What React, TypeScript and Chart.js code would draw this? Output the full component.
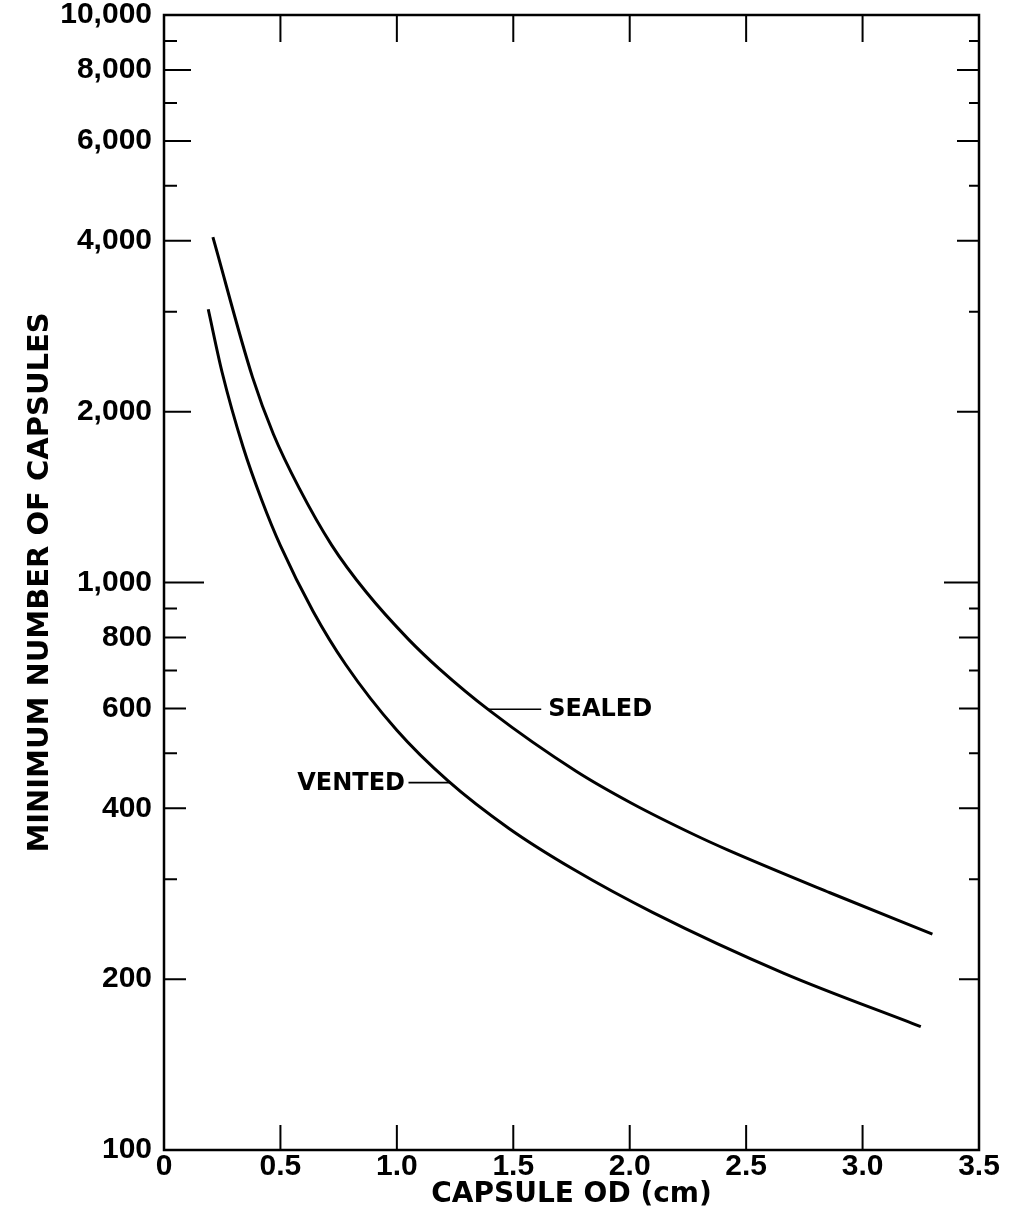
import React, { useEffect, useRef } from 'react';
import { Chart, registerables } from 'chart.js';

Chart.register(...registerables);

// ---- data ----
const sealedX = [0.21, 0.38, 0.47, 0.58, 0.72, 0.87, 1.05, 1.18, 1.40, 1.77, 2.01, 2.28, 2.42, 2.86, 3.30];
const sealedY = [4060, 2301, 1825, 1468, 1164, 960, 794, 706, 594, 465, 408, 359, 338, 284, 240];

const ventedX = [0.19, 0.25, 0.34, 0.42, 0.50, 0.64, 0.78, 1.00, 1.22, 1.48, 1.76, 2.10, 2.66, 3.25];
const ventedY = [3030, 2342, 1731, 1396, 1161, 890, 717, 549, 447, 369, 312, 262, 205, 165];

const seriesNames = ['SEALED', 'VENTED'];

const xTickValues = [0, 0.5, 1, 1.5, 2, 2.5, 3, 3.5];
const xTickLabels = ['0', '0.5', '1.0', '1.5', '2.0', '2.5', '3.0', '3.5'];

const yTickValues = [100, 200, 300, 400, 500, 600, 700, 800, 900, 1000, 2000, 3000, 4000, 5000, 6000, 7000, 8000, 9000, 10000];
const yLabeledValues = [100, 200, 400, 600, 800, 1000, 2000, 4000, 6000, 8000, 10000];
const yLabeledTexts = ['100', '200', '400', '600', '800', '1,000', '2,000', '4,000', '6,000', '8,000', '10,000'];

const xTitle = 'CAPSULE OD (cm)';
const yTitle = 'MINIMUM NUMBER OF CAPSULES';

// label anchors (data coordinates): point on curve, end of leader, text anchor
const sealedLabelAt = { curveX: 1.39, y: 598, leaderEndX: 1.62, textX: 1.65 };
const ventedLabelAt = { curveX: 1.23, y: 444, leaderEndX: 1.05, textX: 1.035 };

const tickFont = { family: '"Liberation Sans", Arial, sans-serif', size: 30, weight: 'bold' as const, lineHeight: 1 };
const titleFontFamily = '"DejaVu Sans", sans-serif';

const framePlugin = {
  id: 'framePlugin',
  afterDatasetsDraw(chart: any) {
    const { ctx, chartArea: a, scales } = chart;
    const xs = scales.x;
    const ys = scales.y;
    ctx.save();
    ctx.strokeStyle = '#000';
    ctx.lineCap = 'butt';
    ctx.lineWidth = 2.5;
    ctx.strokeRect(a.left, a.top, a.right - a.left, a.bottom - a.top);

    ctx.lineWidth = 2;
    yTickValues.forEach((v) => {
      if (v === 100 || v === 10000) return;
      const py = ys.getPixelForValue(v);
      const labeled = yLabeledValues.includes(v);
      const lenL = v === 1000 ? 40 : labeled ? (v >= 2000 ? 27 : 22) : 13;
      const lenR = v === 1000 ? 35 : labeled ? (v >= 2000 ? 22 : 20) : 10;
      ctx.beginPath();
      ctx.moveTo(a.left, py);
      ctx.lineTo(a.left + lenL, py);
      ctx.moveTo(a.right, py);
      ctx.lineTo(a.right - lenR, py);
      ctx.stroke();
    });
    xTickValues.forEach((v) => {
      if (v === xs.min || v === xs.max) return;
      const px = xs.getPixelForValue(v);
      ctx.beginPath();
      ctx.moveTo(px, a.top);
      ctx.lineTo(px, a.top + 27);
      ctx.moveTo(px, a.bottom);
      ctx.lineTo(px, a.bottom - 25);
      ctx.stroke();
    });

    // series labels with leader lines
    ctx.lineWidth = 1.6;
    ctx.fillStyle = '#000';
    ctx.font = `bold 24px ${titleFontFamily}`;
    ctx.textBaseline = 'middle';

    const sy = ys.getPixelForValue(sealedLabelAt.y);
    ctx.beginPath();
    ctx.moveTo(xs.getPixelForValue(sealedLabelAt.curveX), sy);
    ctx.lineTo(xs.getPixelForValue(sealedLabelAt.leaderEndX), sy);
    ctx.stroke();
    ctx.textAlign = 'left';
    ctx.fillText(seriesNames[0], xs.getPixelForValue(sealedLabelAt.textX), sy + 1);

    const vy = ys.getPixelForValue(ventedLabelAt.y);
    ctx.beginPath();
    ctx.moveTo(xs.getPixelForValue(ventedLabelAt.curveX), vy);
    ctx.lineTo(xs.getPixelForValue(ventedLabelAt.leaderEndX), vy);
    ctx.stroke();
    ctx.textAlign = 'right';
    ctx.fillText(seriesNames[1], xs.getPixelForValue(ventedLabelAt.textX), vy + 1);

    ctx.restore();
  },
};

export default function App() {
  const canvasRef = useRef<HTMLCanvasElement | null>(null);

  useEffect(() => {
    if (!canvasRef.current) return;
    const chart = new Chart(canvasRef.current, {
      type: 'line',
      data: {
        datasets: [
          {
            label: seriesNames[0],
            data: sealedX.map((x, i) => ({ x, y: sealedY[i] })),
            borderColor: '#000',
            borderWidth: 3,
            pointRadius: 0,
            cubicInterpolationMode: 'monotone',
            fill: false,
          },
          {
            label: seriesNames[1],
            data: ventedX.map((x, i) => ({ x, y: ventedY[i] })),
            borderColor: '#000',
            borderWidth: 3,
            pointRadius: 0,
            cubicInterpolationMode: 'monotone',
            fill: false,
          },
        ],
      },
      options: {
        animation: false,
        responsive: true,
        maintainAspectRatio: false,
        layout: { padding: { left: 0, right: 42, top: 15, bottom: 0 } },
        plugins: { legend: { display: false }, tooltip: { enabled: false } },
        scales: {
          x: {
            type: 'linear',
            min: 0,
            max: 3.5,
            grid: { display: false, drawTicks: false },
            border: { display: false },
            afterBuildTicks: (s: any) => {
              s.ticks = xTickValues.map((v) => ({ value: v }));
            },
            afterFit: (s: any) => {
              s.height = 68;
              s.paddingLeft = 0;
              s.paddingRight = 0;
            },
            ticks: {
              autoSkip: false,
              maxRotation: 0,
              padding: 2,
              color: '#000',
              font: tickFont,
              callback: (v: any) => {
                const i = xTickValues.indexOf(Number(v));
                return i >= 0 ? xTickLabels[i] : '';
              },
            },
            title: {
              display: true,
              text: xTitle,
              color: '#000',
              font: { family: titleFontFamily, size: 28, weight: 'bold' },
              padding: { top: 0, bottom: 6 },
            },
          },
          y: {
            type: 'logarithmic',
            min: 100,
            max: 10000,
            grid: { display: false, drawTicks: false },
            border: { display: false },
            afterBuildTicks: (s: any) => {
              s.ticks = yTickValues.map((v) => ({ value: v }));
            },
            afterFit: (s: any) => {
              s.width = 164;
              s.paddingTop = 0;
              s.paddingBottom = 0;
            },
            ticks: {
              autoSkip: false,
              padding: 12,
              color: '#000',
              font: tickFont,
              callback: (v: any) => {
                const i = yLabeledValues.indexOf(Number(v));
                return i >= 0 ? yLabeledTexts[i] : '';
              },
            },
            title: {
              display: true,
              text: yTitle,
              color: '#000',
              font: { family: titleFontFamily, size: 29, weight: 'bold' },
              padding: { top: 23, bottom: 0 },
            },
          },
        },
      } as any,
      plugins: [framePlugin],
    });
    return () => chart.destroy();
  }, []);

  return (
    <div style={{ position: 'fixed', left: 0, top: 0, width: '100vw', height: '100vh', background: '#fff' }}>
      <canvas ref={canvasRef} />
    </div>
  );
}
